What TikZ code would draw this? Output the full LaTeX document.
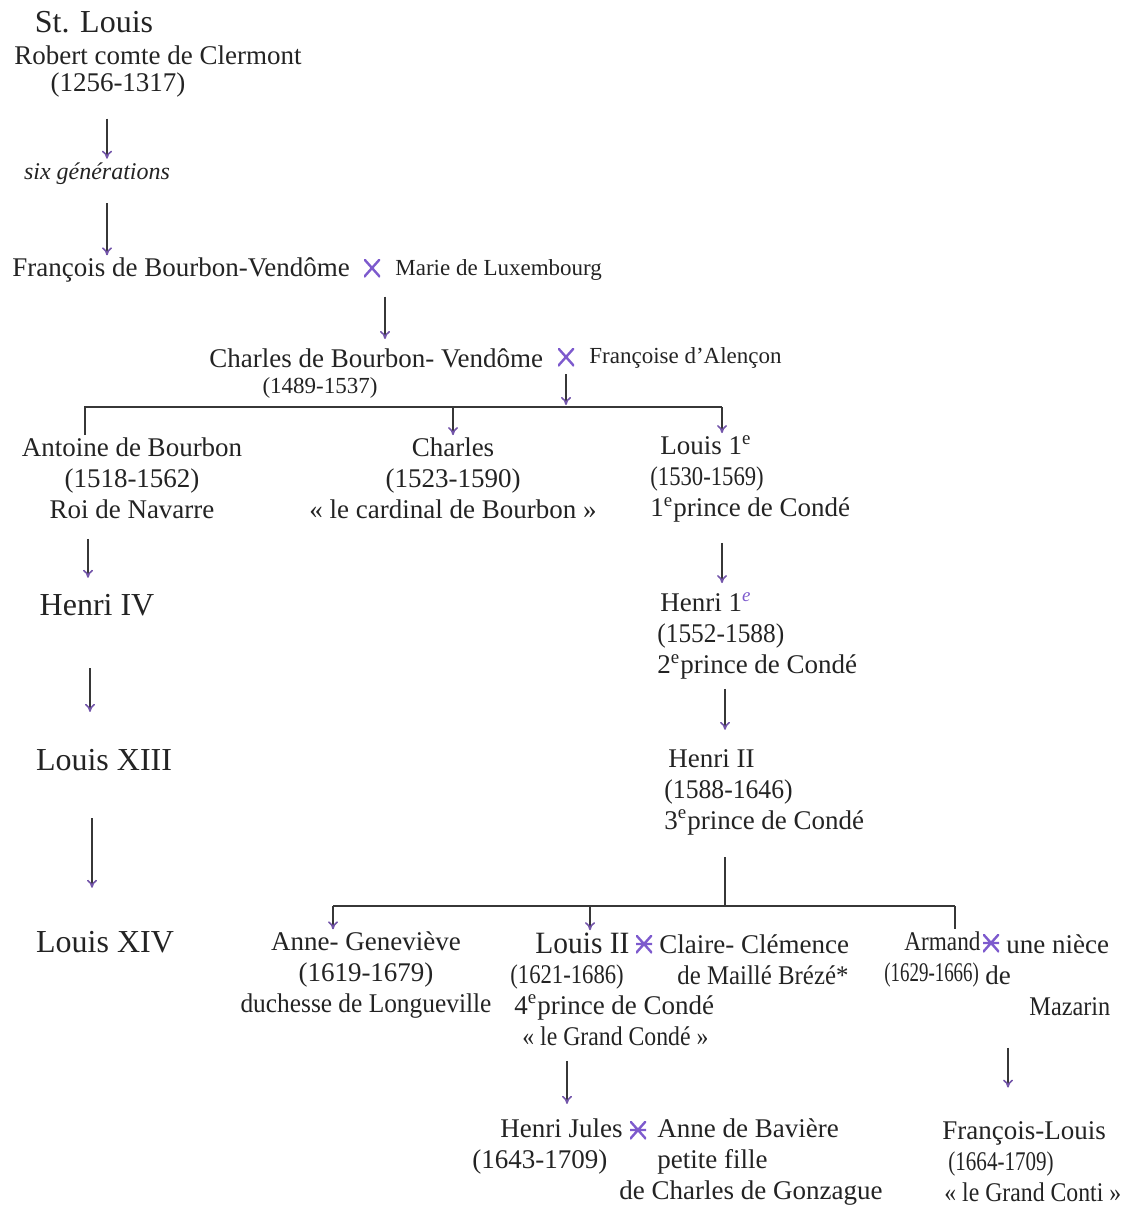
\documentclass[tikz,border=0pt]{standalone}
\usepackage{fontspec}
\setmainfont{Liberation Serif}
\usetikzlibrary{arrows.meta}

\definecolor{ink}{RGB}{35,35,35}
\definecolor{linec}{RGB}{55,55,55}
\definecolor{arrc}{RGB}{115,85,170}
\definecolor{wedc}{RGB}{125,90,205}

\newcommand{\eme}{\textsuperscript{e}}
\newcommand{\cond}[2]{{\addfontfeatures{FakeStretch=#1}#2}}

\tikzset{
  txt/.style={inner sep=1pt, text=ink, align=left, font=\fontsize{13.5}{15.5}\selectfont},
  bigtxt/.style={font=\fontsize{16}{18}\selectfont},
  smalltxt/.style={font=\fontsize{11.5}{13}\selectfont},
  wed/.style={minimum width=8pt, minimum height=9pt, inner sep=0pt,
    path picture={\draw[wedc, line width=1.2pt]
      (path picture bounding box.south west) -- (path picture bounding box.north east)
      (path picture bounding box.north west) -- (path picture bounding box.south east);}},
  wedbar/.style={minimum width=8pt, minimum height=9pt, inner sep=0pt,
    path picture={\draw[wedc, line width=1.2pt]
      (path picture bounding box.south west) -- (path picture bounding box.north east)
      (path picture bounding box.north west) -- (path picture bounding box.south east)
      (path picture bounding box.west) -- (path picture bounding box.east);}}
}

\begin{document}
\begin{tikzpicture}[x=0.5pt, y=-0.5pt]

      \useasboundingbox (0,0) rectangle (1139,1209);

      \begin{scope}[every node/.style={txt}]
        \node[bigtxt] (stl) at (94,22) {St. Louis};
        \node (robert) at (158,55) {Robert comte de Clermont};
        \node (rdates) at (118,85) {(1256-1317)};
        \node[font=\fontsize{12}{14}\selectfont\itshape] (sixgen) at (97,174) {six générations};
        \node[anchor=west] (francois) at (10,270) {François de Bourbon-Vendôme};
        \node[smalltxt, anchor=west] (marie) at (393,270) {Marie de Luxembourg};
        \node[anchor=west] (charlesbv) at (207,358) {Charles de Bourbon- Vendôme};
        \node[smalltxt, anchor=west] (francoise) at (587,358) {Françoise d’Alençon};
        \node[smalltxt] (cdates) at (320,388) {(1489-1537)};
        \node[align=center] (ant) at (132,478) {Antoine de Bourbon\\(1518-1562)\\Roi de Navarre};
        \node[align=center] (char) at (453,478) {Charles\\(1523-1590)\\« le cardinal de Bourbon »};
        \node[anchor=west] (louis1) at (648,479) {\hspace*{5pt}Louis 1\eme\\\cond{0.84}{(1530-1569)}\\1\eme prince de Condé};
        \node[bigtxt] (henri4) at (97,605) {Henri IV};
        \node[bigtxt] (louis13) at (104,760) {Louis XIII};
        \node[bigtxt] (louis14) at (105,942) {Louis XIV};
        \node[anchor=west] (henri1) at (655,636) {\hspace*{1.5pt}Henri 1\textsuperscript{\textcolor{wedc}{\itshape e}}\\\cond{0.94}{(1552-1588)}\\2\eme prince de Condé};
        \node[anchor=west] (henri2) at (662,792) {\hspace*{2pt}Henri II\\\cond{0.95}{(1588-1646)}\\3\eme prince de Condé};
        \node[align=center] (anne) at (366,975) {Anne- Geneviève\\(1619-1679)\\\cond{0.94}{duchesse de Longueville}};
        \node[anchor=west, font=\fontsize{15.5}{17}\selectfont] (louis2) at (533,943) {\cond{0.95}{Louis II}};
        \node[anchor=west] (l2info) at (508,1005) {\cond{0.84}{(1621-1686)}\\\hspace*{2pt}4\eme prince de Condé\\\hspace*{6pt}\cond{0.88}{« le Grand Condé »}};
        \node[anchor=west] (claire) at (657,960) {Claire- Clémence\\\hspace*{9pt}\cond{0.92}{de Maillé Brézé*}};
        \node[anchor=west] (armand) at (882,959) {\hspace*{10pt}\cond{0.86}{Armand}\\\cond{0.7}{(1629-1666)}};
        \node[anchor=west] (niece) at (983,975) {\hspace*{10.5pt}une nièce\\de\\\hspace*{22pt}\cond{0.9}{Mazarin}};
        \node[anchor=west] (flouis) at (940,1162) {François-Louis\\\hspace*{3pt}\cond{0.78}{(1664-1709)}\\\hspace*{1pt}\cond{0.88}{« le Grand Conti »}};
        \node[anchor=west] (hjules) at (470,1146) {\hspace*{14pt}Henri Jules\\(1643-1709)};
        \node[anchor=west] (anneb) at (617,1162) {\hspace*{19pt}Anne de Bavière\\\hspace*{19pt}petite fille\\de Charles de Gonzague};
      \end{scope}

      \begin{scope}
        \node[wed] (w1) at (372,268) {};
        \node[wed] (w2) at (566,357) {};
        \node[wedbar] (w3) at (644,944) {};
        \node[wedbar] (w4) at (991,943) {};
        \node[wedbar] (w5) at (638,1130) {};
      \end{scope}

      \coordinate (b1l) at (85,407);
      \coordinate (b1r) at (722,407);
      \coordinate (b2l) at (333,906);
      \coordinate (b2r) at (955,906);

      \begin{scope}[every path/.style={draw=linec, line width=0.7pt}]
        \draw (ant.north -| b1l) -- (b1l) -- (b1r);
        \draw (b2l) -- (b2r);
        \draw[shorten <=10pt] (henri2.south -| 725,0) -- (725,0 |- b2l);
        \draw (b2r) -- (armand.north -| b2r);
      \end{scope}

      \begin{scope}[every edge/.style={draw=linec, line width=0.7pt,
          -{To[length=4pt, width=5pt, color=arrc, line width=0.8pt]}}]
        \path (rdates.south -| 107,0) edge[shorten <=9.5pt, shorten >=1pt] (sixgen.north -| 107,0);
        \path (sixgen.south -| 107,0) edge[shorten <=8pt] (francois.north -| 107,0);
        \path (francois.south -| 385,0) edge[shorten <=6pt, shorten >=3.5pt] (charlesbv.north -| 385,0);
        \path (w2.south) edge[shorten <=4pt, shorten >=1pt] (w2 |- b1l);
        \path (char.north |- b1l) edge (char.north);
        \path (b1r) edge (louis1.north -| b1r);
        \path (ant.south -| 88,0) edge[shorten <=9pt, shorten >=7pt] (henri4.north -| 88,0);
        \path (henri4.south -| 90,0) edge[shorten <=25pt, shorten >=17.5pt] (louis13.north -| 90,0);
        \path (louis13.south -| 92,0) edge[shorten <=22.5pt, shorten >=20.5pt] (louis14.north -| 92,0);
        \path (louis1.south -| 722,0) edge[shorten <=9pt, shorten >=3.5pt] (henri1.north -| 722,0);
        \path (henri1.south -| 725,0) edge[shorten <=3.5pt, shorten >=8.5pt] (henri2.north -| 725,0);
        \path (b2l) edge (anne.north -| b2l);
        \path (590,0 |- b2l) edge (louis2.north -| 590,0);
        \path (l2info.south -| 567,0) edge[shorten <=6.5pt, shorten >=6pt] (hjules.north -| 567,0);
        \path (niece.south -| 1008,0) edge[shorten <=15pt, shorten >=16pt] (flouis.north -| 1008,0);
      \end{scope}

    \end{tikzpicture}
\end{document}
